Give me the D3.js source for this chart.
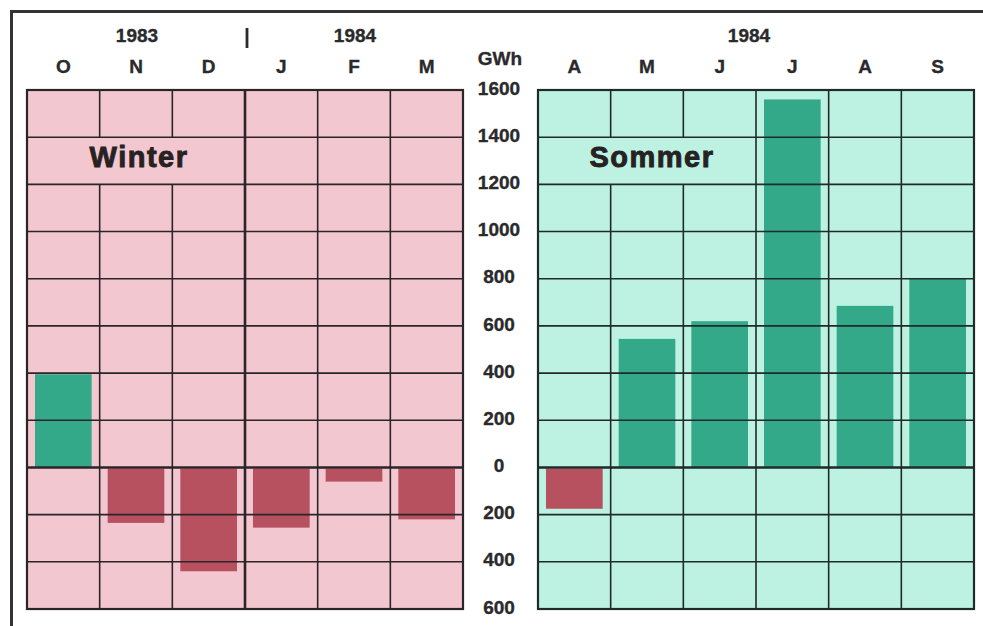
<!DOCTYPE html>
<html><head><meta charset="utf-8">
<script src="https://cdn.jsdelivr.net/npm/d3@7"></script>
<style>
html,body{margin:0;padding:0;background:#fff;}
svg{display:block;}
text{font-family:"Liberation Sans",Arial,Helvetica,sans-serif;font-weight:bold;fill:#2a2a2c;}
</style>
</head><body>
<svg id="c" width="983" height="626"></svg>
<script>
// ---- data ----
const winterMonths = ["O","N","D","J","F","M"];
const winterValues = [395, -235, -440, -255, -60, -220];
const summerMonths = ["A","M","J","J","A","S"];
const summerValues = [-175, 545, 620, 1560, 685, 800];
const yTicks = [-600,-400,-200,0,200,400,600,800,1000,1200,1400,1600];
const winterYears = ["1983","1984"];
const summerYears = ["1984"];
const unitLabel = "GWh";
const panelTitles = ["Winter","Sommer"];

// ---- layout ----
const svg = d3.select("#c");
const y = d3.scaleLinear().domain([-600,1600]).range([609,90]);
const lineCol = "#2b2428";
const txtCol = "#2a2a2c";

// outer frame
svg.append("line").attr("x1",10).attr("x2",983).attr("y1",11.5).attr("y2",11.5)
  .attr("stroke","#333").attr("stroke-width",3);
svg.append("line").attr("x1",11.5).attr("x2",11.5).attr("y1",10).attr("y2",626)
  .attr("stroke","#333").attr("stroke-width",3);

function styleLabel(sel, size){
  sel.style("font-size",size+"px").style("font-family","'Liberation Sans',Arial,sans-serif")
    .style("font-weight","bold").attr("fill",txtCol)
    .attr("stroke",txtCol).attr("stroke-width",0.35);
}

function panel(opts){
  const {x0,x1,months,values,bg,lineColor,title,titleX,yearSplit} = opts;
  const idx = d3.range(months.length);
  const x = d3.scaleBand().domain(idx).range([x0,x1]).padding(0);
  const bw = x.bandwidth();
  const g = svg.append("g");
  g.append("rect").attr("x",x0).attr("y",y(1600)).attr("width",x1-x0).attr("height",y(-600)-y(1600))
    .attr("fill",bg);
  // bars
  g.selectAll("rect.bar").data(values).enter().append("rect").attr("class","bar")
    .attr("x",(d,i)=>x(i)+bw*0.11)
    .attr("width",bw*0.78)
    .attr("y",d=> d>=0 ? y(d) : y(0)+1)
    .attr("height",d=> d>=0 ? y(0)-y(d) : y(d)-y(0)-1)
    .attr("fill",d=> d>=0 ? "#33a98a" : "#b7505f");
  // horizontal grid
  g.selectAll("line.h").data(yTicks.filter(t=>t>-600 && t<1600)).enter().append("line")
    .attr("x1",x0).attr("x2",x1).attr("y1",d=>y(d)).attr("y2",d=>y(d))
    .attr("stroke",lineColor).attr("stroke-width",d=>d===0?2.6:1.6);
  // vertical grid
  const bounds = d3.range(1,months.length);
  bounds.forEach(b=>{
    const xx = x(b);
    const thick = (b===yearSplit);
    if (b<=2){
      g.append("line").attr("x1",xx).attr("x2",xx).attr("y1",y(1600)).attr("y2",y(1400))
        .attr("stroke",lineColor).attr("stroke-width",1.6);
      g.append("line").attr("x1",xx).attr("x2",xx).attr("y1",y(1200)).attr("y2",y(-600))
        .attr("stroke",lineColor).attr("stroke-width",1.6);
    } else {
      g.append("line").attr("x1",xx).attr("x2",xx).attr("y1",y(1600)).attr("y2",y(-600))
        .attr("stroke",lineColor).attr("stroke-width",thick?2.6:1.6);
    }
  });
  // border
  g.append("rect").attr("x",x0).attr("y",y(1600)).attr("width",x1-x0).attr("height",y(-600)-y(1600))
    .attr("fill","none").attr("stroke",lineColor).attr("stroke-width",2.2);
  // title
  g.append("text").attr("x",titleX).attr("y",167).attr("text-anchor","middle")
    .style("font-size","29px").style("letter-spacing","1.5px").style("fill","#262224")
    .attr("stroke","#262224").attr("stroke-width",0.9).text(title);
  // month axis
  const ax = d3.axisTop(x).tickSize(0).tickPadding(0).tickFormat(i=>months[i]);
  const ag = svg.append("g").attr("transform","translate(0,73)").call(ax);
  ag.select(".domain").remove();
  styleLabel(ag.selectAll("text").attr("dy","0"), 19);
  return x;
}

const xw = panel({x0:27,x1:463,months:winterMonths,values:winterValues,bg:"#f3c7d0",
  lineColor:lineCol,title:panelTitles[0],titleX:139,yearSplit:3});
const xs = panel({x0:538,x1:974,months:summerMonths,values:summerValues,bg:"#bdf2e3",
  lineColor:"#1f2b29",title:panelTitles[1],titleX:652,yearSplit:-1});

// year labels
const yearY = 42;
styleLabel(svg.append("text").attr("x",(xw(0)+xw(3))/2+1).attr("y",yearY).attr("text-anchor","middle")
  .text(winterYears[0]), 19);
styleLabel(svg.append("text").attr("x",(xw(3)+xw.range()[1])/2+1).attr("y",yearY).attr("text-anchor","middle")
  .text(winterYears[1]), 19);
svg.append("line").attr("x1",xw(3)+2).attr("x2",xw(3)+2).attr("y1",28).attr("y2",48)
  .attr("stroke",txtCol).attr("stroke-width",2.8);
styleLabel(svg.append("text").attr("x",(xs.range()[0]+xs.range()[1])/2-7).attr("y",yearY).attr("text-anchor","middle")
  .text(summerYears[0]), 19);

// unit
styleLabel(svg.append("text").attr("x",500).attr("y",65).attr("text-anchor","middle").text(unitLabel), 19);

// value axis labels
const ya = d3.axisRight(y).tickValues(yTicks).tickSize(0).tickPadding(0).tickFormat(d=>Math.abs(d));
const yg = svg.append("g").attr("transform","translate(499,-2)").call(ya);
yg.select(".domain").remove();
styleLabel(yg.selectAll("text").attr("text-anchor","middle").attr("x",0), 19);
</script>
</body></html>
